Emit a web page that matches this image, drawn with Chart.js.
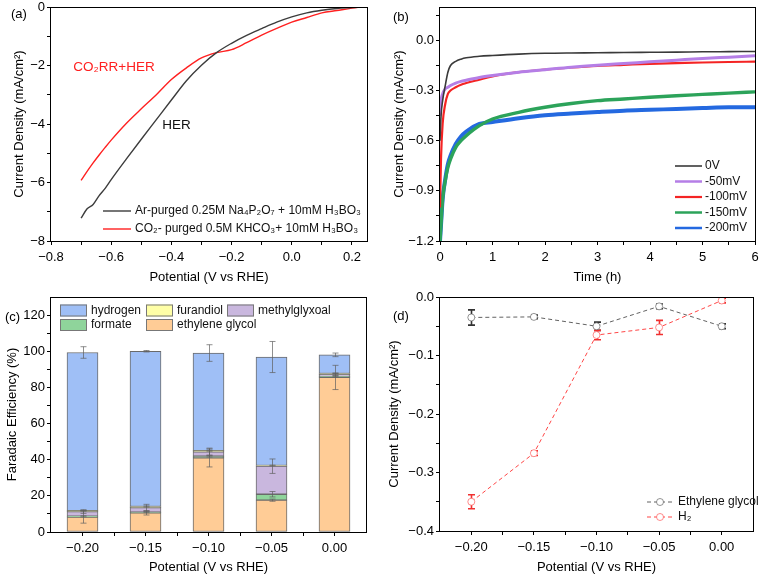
<!DOCTYPE html>
<html>
<head>
<meta charset="utf-8">
<script src="https://cdn.jsdelivr.net/npm/chart.js@4.4.0/dist/chart.umd.min.js"></script>
<style>
  html, body { margin: 0; padding: 0; background: #fff; }
  #wrap { position: relative; width: 760px; height: 576px; }
  canvas { position: absolute; }
</style>
</head>
<body>
<div id="wrap">
  <canvas id="chartA" width="380" height="290" style="left:0;top:0"></canvas>
  <canvas id="chartB" width="380" height="290" style="left:380px;top:0"></canvas>
  <canvas id="chartC" width="380" height="286" style="left:0;top:290px"></canvas>
  <canvas id="chartD" width="380" height="286" style="left:380px;top:290px"></canvas>
</div>
<script>
// (a) linear sweep voltammetry
const lsvPotential = [-0.70, -0.68, -0.66, -0.64, -0.62, -0.60, -0.55, -0.50, -0.45, -0.40, -0.35, -0.30, -0.25, -0.20, -0.15, -0.10, -0.05, 0.00, 0.05, 0.10, 0.15, 0.20, 0.23];
const lsvHer = [-7.22, -6.90, -6.75, -6.45, -6.20, -5.90, -5.20, -4.52, -3.85, -3.18, -2.52, -1.99, -1.56, -1.24, -0.97, -0.74, -0.52, -0.34, -0.20, -0.11, -0.05, -0.02, 0];
const lsvCo2 = [-5.93, -5.62, -5.33, -5.06, -4.80, -4.55, -3.98, -3.48, -3.00, -2.48, -2.08, -1.74, -1.56, -1.46, -1.22, -0.96, -0.73, -0.52, -0.36, -0.20, -0.12, -0.04, 0];

// (b) chronoamperometry
const caTime = [0, 0.02, 0.05, 0.1, 0.15, 0.2, 0.3, 0.4, 0.5, 0.75, 1, 1.5, 2, 2.5, 3, 3.5, 4, 4.5, 5, 5.5, 6];
const ca0mV = [-0.6, -0.45, -0.36, -0.27, -0.19, -0.15, -0.125, -0.112, -0.104, -0.095, -0.09, -0.082, -0.077, -0.075, -0.074, -0.072, -0.071, -0.07, -0.068, -0.067, -0.066];
const ca50mV = [-0.45, -0.36, -0.32, -0.29, -0.28, -0.27, -0.255, -0.245, -0.238, -0.222, -0.21, -0.19, -0.175, -0.16, -0.148, -0.138, -0.128, -0.118, -0.108, -0.1, -0.092];
const ca100mV = [-1.0, -0.7, -0.5, -0.38, -0.32, -0.3, -0.28, -0.265, -0.255, -0.235, -0.215, -0.19, -0.175, -0.162, -0.152, -0.146, -0.14, -0.136, -0.132, -0.129, -0.127];
const ca150mV = [-1.2, -1.1, -0.95, -0.84, -0.76, -0.71, -0.64, -0.6, -0.57, -0.51, -0.47, -0.43, -0.4, -0.377, -0.36, -0.35, -0.34, -0.331, -0.323, -0.315, -0.308];
const ca200mV = [-1.2, -1.1, -0.95, -0.83, -0.74, -0.69, -0.62, -0.575, -0.545, -0.5, -0.488, -0.465, -0.447, -0.437, -0.428, -0.42, -0.415, -0.41, -0.405, -0.4, -0.4];

// (c) faradaic efficiency
const fePotential = [-0.20, -0.15, -0.10, -0.05, 0.00];
const feEthyleneGlycol = [8.3, 10.6, 41.0, 17.6, 85.5];
const feFormate = [0.4, 0.4, 1.0, 3.3, 0.6];
const feMethylglyxoal = [2.6, 2.5, 2.4, 15.5, 1.0];
const feFurandiol = [0.5, 0.6, 0.6, 0.4, 0.6];
const feHydrogen = [87.5, 85.9, 54.0, 60.0, 10.3];
const errEthyleneGlycol = [3.4, 1.2, 5.0, 0.6, 6.7];
const errFormate = [0.3, 0.3, 0.5, 1.5, 0.3];
const errMethylglyxoal = [1.0, 1.8, 2.0, 4.0, 0.6];
const errFurandiol = [0.2, 0.3, 0.3, 0.2, 0.3];
const errHydrogen = [3.2, 0.4, 4.6, 8.6, 1.0];

// (d) partial current density
const jEthyleneGlycol = [-0.035, -0.034, -0.050, -0.016, -0.050];
const jH2 = [-0.350, -0.267, -0.065, -0.052, -0.006];
const errJEthyleneGlycol = [0.013, 0.003, 0.007, 0.004, 0.004];
const errJH2 = [0.012, 0.004, 0.008, 0.012, 0.004];

// tick values
const aXMajor = [-0.8, -0.6, -0.4, -0.2, 0.0, 0.2];
const aXMinor = [-0.7, -0.5, -0.3, -0.1, 0.1];
const aYMajor = [-8, -6, -4, -2, 0];
const aYMinor = [-7, -5, -3, -1];
const bXMajor = [0, 1, 2, 3, 4, 5, 6];
const bXMinor = [0.5, 1.5, 2.5, 3.5, 4.5, 5.5];
const bYMajor = [-1.2, -0.9, -0.6, -0.3, 0.0];
const bYMinor = [-1.05, -0.75, -0.45, -0.15, 0.15];
const potMinor = [-0.175, -0.125, -0.075, -0.025];
const cYMajor = [0, 20, 40, 60, 80, 100, 120];
const cYMinor = [10, 30, 50, 70, 90, 110];
const dYMajor = [-0.4, -0.3, -0.2, -0.1, 0.0];
const dYMinor = [-0.35, -0.25, -0.15, -0.05];

const FONT = '"Liberation Sans", Arial, Helvetica, sans-serif';
Chart.defaults.font.family = FONT;
Chart.defaults.font.size = 13;
Chart.defaults.color = '#000';
Chart.defaults.animation = false;
Chart.defaults.plugins.legend.display = false;
Chart.defaults.plugins.tooltip.enabled = false;

const pairs = (xs, ys) => xs.map((x, i) => ({x: x, y: ys[i]}));
const fmt = (v, d) => v.toFixed(d).replace('-', '\u2212');

function makeScale(o) {
    const isX = o.axis === 'x';
    return {
        type: 'linear',
        position: isX ? 'bottom' : 'left',
        min: o.min,
        max: o.max,
        stacked: !!o.stacked,
        offset: false,
        afterBuildTicks: scale => {
            const list = o.major.map(v => ({value: v, shown: true}))
                .concat(o.minor.map(v => ({value: v, shown: false})));
            list.sort((a, b) => a.value - b.value);
            scale.ticks = list;
        },
        afterFit: s => {
            if (isX) s.height = o.size; else s.width = o.size;
            s.paddingLeft = 0; s.paddingRight = 0; s.paddingTop = 0; s.paddingBottom = 0;
        },
        border: {display: false},
        grid: {drawOnChartArea: false, drawTicks: true, tickLength: 4, tickColor: '#000', tickWidth: 1, offset: false},
        ticks: {
            padding: isX ? 5 : 2, maxRotation: 0, autoSkip: false, color: '#000',
            callback: (v, i, t) => t[i].shown ? fmt(v, o.digits) : ''
        },
        title: {
            display: true, text: o.title, color: '#000', font: {size: 13},
            padding: isX ? {top: 0, bottom: o.pad} : {top: o.pad, bottom: 0}
        }
    };
}

function frame() {
    return {
        id: 'frame',
        afterDatasetsDraw(chart) {
            const {ctx, chartArea: a} = chart;
            ctx.save();
            ctx.strokeStyle = '#000';
            ctx.lineWidth = 1;
            ctx.strokeRect(Math.round(a.left) - 0.5, Math.round(a.top) + 0.5,
                Math.round(a.right - a.left) + 1, Math.round(a.bottom - a.top));
            ctx.restore();
        }
    };
}

function notes(list) {
    return {
        id: 'notes',
        afterDraw(chart) {
            const ctx = chart.ctx;
            ctx.save();
            list.forEach(n => {
                const x = n.xv !== undefined ? chart.scales.x.getPixelForValue(n.xv) : n.x;
                const y = n.yv !== undefined ? chart.scales.y.getPixelForValue(n.yv) : n.y;
                ctx.font = n.size + 'px ' + FONT;
                ctx.fillStyle = n.color || '#000';
                ctx.textBaseline = 'middle';
                ctx.textAlign = 'left';
                ctx.fillText(n.text, x, y);
            });
            ctx.restore();
        }
    };
}

function legendKey(cfg) {
    return {
        id: 'legendKey',
        afterDraw(chart) {
            const ctx = chart.ctx;
            ctx.save();
            ctx.font = cfg.size + 'px ' + FONT;
            ctx.textBaseline = 'middle';
            ctx.textAlign = 'left';
            cfg.items.forEach(it => {
                const ds = chart.data.datasets[it.ds];
                if (cfg.box) {
                    ctx.fillStyle = ds.backgroundColor;
                    ctx.fillRect(it.x, it.y - 6, 27, 12);
                    ctx.strokeStyle = '#777';
                    ctx.lineWidth = 1;
                    ctx.strokeRect(it.x + 0.5, it.y - 5.5, 26, 11);
                } else {
                    ctx.strokeStyle = ds.borderColor;
                    ctx.lineWidth = Math.min(ds.borderWidth, 2.5);
                    ctx.setLineDash(ds.borderDash || []);
                    ctx.beginPath();
                    ctx.moveTo(it.x, it.y);
                    ctx.lineTo(it.x + cfg.len, it.y);
                    ctx.stroke();
                    ctx.setLineDash([]);
                    if (ds.pointRadius) {
                        ctx.fillStyle = '#fff';
                        ctx.strokeStyle = ds.pointBorderColor;
                        ctx.lineWidth = 1;
                        ctx.beginPath();
                        ctx.arc(it.x + cfg.len / 2, it.y, ds.pointRadius, 0, Math.PI * 2);
                        ctx.fill();
                        ctx.stroke();
                    }
                }
                ctx.fillStyle = '#111';
                ctx.fillText(ds.label, it.x + cfg.gap, it.y);
            });
            ctx.restore();
        }
    };
}

function errorBars(cfg) {
    function draw(chart) {
        const ctx = chart.ctx, yScale = chart.scales.y;
        chart.data.datasets.forEach((ds, i) => {
            if (!ds.errors) return;
            const meta = chart.getDatasetMeta(i);
            ctx.save();
            ctx.strokeStyle = ds.errorColor;
            ctx.lineWidth = cfg.width;
            meta.data.forEach((el, j) => {
                const v = yScale.getValueForPixel(el.y);
                const y1 = yScale.getPixelForValue(v + ds.errors[j]);
                const y2 = yScale.getPixelForValue(v - ds.errors[j]);
                const x = Math.round(el.x) + 0.5;
                ctx.beginPath();
                ctx.moveTo(x, y1); ctx.lineTo(x, y2);
                ctx.moveTo(x - cfg.cap, y1); ctx.lineTo(x + cfg.cap, y1);
                ctx.moveTo(x - cfg.cap, y2); ctx.lineTo(x + cfg.cap, y2);
                ctx.stroke();
            });
            ctx.restore();
        });
    }
    return {
        id: 'errorBars',
        beforeDatasetsDraw(chart) { if (cfg.under) draw(chart); },
        afterDatasetsDraw(chart) { if (!cfg.under) draw(chart); }
    };
}

// ---- (a)
new Chart(document.getElementById('chartA'), {
    type: 'line',
    data: {
        datasets: [
            {label: 'Ar-purged 0.25M Na\u2084P\u2082O\u2087 + 10mM H\u2083BO\u2083', data: pairs(lsvPotential, lsvHer),
             borderColor: '#3c3c3c', borderWidth: 1.4},
            {label: 'CO\u2082- purged 0.5M KHCO\u2083+ 10mM H\u2083BO\u2083', data: pairs(lsvPotential, lsvCo2),
             borderColor: '#ff2020', borderWidth: 1.4}
        ]
    },
    options: {
        responsive: false,
        layout: {padding: {left: 0, top: 7, right: 13, bottom: 0}},
        elements: {point: {radius: 0}, line: {cubicInterpolationMode: 'monotone'}},
        scales: {
            x: makeScale({axis: 'x', min: -0.8, max: 0.25, major: aXMajor, minor: aXMinor, digits: 1, size: 49, pad: 5, title: 'Potential (V vs RHE)'}),
            y: makeScale({axis: 'y', min: -8, max: 0, major: aYMajor, minor: aYMinor, digits: 0, size: 51, pad: 12, title: 'Current Density (mA/cm\u00b2)'})
        }
    },
    plugins: [frame(),
        notes([
            {text: '(a)', x: 11, y: 14, size: 13},
            {text: 'CO\u2082RR+HER', xv: -0.726, yv: -2.05, size: 13.5, color: '#ff2020'},
            {text: 'HER', xv: -0.43, yv: -4.06, size: 13.5, color: '#111'}
        ]),
        legendKey({size: 12, len: 28, gap: 32, items: [{ds: 0, x: 103, y: 211}, {ds: 1, x: 103, y: 229}]})
    ]
});

// ---- (b)
new Chart(document.getElementById('chartB'), {
    type: 'line',
    data: {
        datasets: [
            {label: '0V', data: pairs(caTime, ca0mV), borderColor: '#3a3a3a', borderWidth: 1.6},
            {label: '-50mV', data: pairs(caTime, ca50mV), borderColor: '#b57ee6', borderWidth: 3},
            {label: '-100mV', data: pairs(caTime, ca100mV), borderColor: '#f42424', borderWidth: 2.2},
            {label: '-150mV', data: pairs(caTime, ca150mV), borderColor: '#2ca35a', borderWidth: 3.4},
            {label: '-200mV', data: pairs(caTime, ca200mV), borderColor: '#2469e0', borderWidth: 4}
        ]
    },
    options: {
        responsive: false,
        layout: {padding: {left: 0, top: 7, right: 5, bottom: 0}},
        elements: {point: {radius: 0}, line: {cubicInterpolationMode: 'monotone'}},
        scales: {
            x: makeScale({axis: 'x', min: 0, max: 6, major: bXMajor, minor: bXMinor, digits: 0, size: 49, pad: 5, title: 'Time (h)'}),
            y: makeScale({axis: 'y', min: -1.2, max: 0.2, major: bYMajor, minor: bYMinor, digits: 1, size: 60, pad: 12, title: 'Current Density (mA/cm\u00b2)'})
        }
    },
    plugins: [frame(),
        notes([{text: '(b)', x: 13, y: 17, size: 13}]),
        legendKey({size: 12, len: 27, gap: 30, items: [
            {ds: 0, x: 295, y: 166}, {ds: 1, x: 295, y: 181.5}, {ds: 2, x: 295, y: 197},
            {ds: 3, x: 295, y: 212.5}, {ds: 4, x: 295, y: 228}
        ]})
    ]
});

// ---- (c)
const feErrColor = 'rgba(95,95,95,0.7)';
new Chart(document.getElementById('chartC'), {
    type: 'bar',
    data: {
        datasets: [
            {label: 'ethylene glycol', data: pairs(fePotential, feEthyleneGlycol), backgroundColor: '#ffcc96', errors: errEthyleneGlycol, errorColor: feErrColor},
            {label: 'formate', data: pairs(fePotential, feFormate), backgroundColor: '#8fd49b', errors: errFormate, errorColor: feErrColor},
            {label: 'methylglyxoal', data: pairs(fePotential, feMethylglyxoal), backgroundColor: '#c9b7de', errors: errMethylglyxoal, errorColor: feErrColor},
            {label: 'furandiol', data: pairs(fePotential, feFurandiol), backgroundColor: '#ffffa6', errors: errFurandiol, errorColor: feErrColor},
            {label: 'hydrogen', data: pairs(fePotential, feHydrogen), backgroundColor: '#9fbff6', errors: errHydrogen, errorColor: feErrColor}
        ]
    },
    options: {
        responsive: false,
        layout: {padding: {left: 0, top: 7, right: 14, bottom: 0}},
        datasets: {bar: {barThickness: 31, borderWidth: 1, borderColor: '#6a6a6a', borderSkipped: false}},
        scales: {
            x: makeScale({axis: 'x', min: -0.225, max: 0.025, stacked: true, major: fePotential, minor: potMinor, digits: 2, size: 44, pad: 1, title: 'Potential (V vs RHE)'}),
            y: makeScale({axis: 'y', min: 0, max: 130, stacked: true, major: cYMajor, minor: cYMinor, digits: 0, size: 51, pad: 5, title: 'Faradaic Efficiency (%)'})
        }
    },
    plugins: [frame(), errorBars({under: false, width: 1, cap: 3}),
        notes([{text: '(c)', x: 5, y: 27, size: 13}]),
        legendKey({box: true, size: 12, gap: 31, items: [
            {ds: 4, x: 60, y: 20.5}, {ds: 3, x: 146, y: 20.5}, {ds: 2, x: 227, y: 20.5},
            {ds: 1, x: 60, y: 35}, {ds: 0, x: 146, y: 35}
        ]})
    ]
});

// ---- (d)
new Chart(document.getElementById('chartD'), {
    type: 'line',
    data: {
        datasets: [
            {label: 'Ethylene glycol', data: pairs(fePotential, jEthyleneGlycol), borderColor: 'rgba(70,70,70,0.85)', borderWidth: 1,
             borderDash: [4, 3], pointRadius: 3.5, pointBackgroundColor: '#fff', pointBorderColor: 'rgba(90,90,90,0.65)', pointBorderWidth: 1,
             errors: errJEthyleneGlycol, errorColor: '#333'},
            {label: 'H\u2082', data: pairs(fePotential, jH2), borderColor: 'rgba(255,50,50,0.9)', borderWidth: 1,
             borderDash: [4, 3], pointRadius: 3.5, pointBackgroundColor: '#fff', pointBorderColor: 'rgba(255,80,80,0.65)', pointBorderWidth: 1,
             errors: errJH2, errorColor: '#f03030'}
        ]
    },
    options: {
        responsive: false,
        layout: {padding: {left: 0, top: 7, right: 7, bottom: 0}},
        scales: {
            x: makeScale({axis: 'x', min: -0.225, max: 0.025, major: fePotential, minor: potMinor, digits: 2, size: 45, pad: 1, title: 'Potential (V vs RHE)'}),
            y: makeScale({axis: 'y', min: -0.4, max: 0, major: dYMajor, minor: dYMinor, digits: 1, size: 60, pad: 7, title: 'Current Density (mA/cm\u00b2)'})
        }
    },
    plugins: [frame(), errorBars({under: true, width: 1.6, cap: 3.5}),
        notes([{text: '(d)', x: 13, y: 26, size: 13}]),
        legendKey({size: 12, len: 26, gap: 31, items: [{ds: 0, x: 267, y: 212}, {ds: 1, x: 267, y: 227}]})
    ]
});
</script>
</body>
</html>
